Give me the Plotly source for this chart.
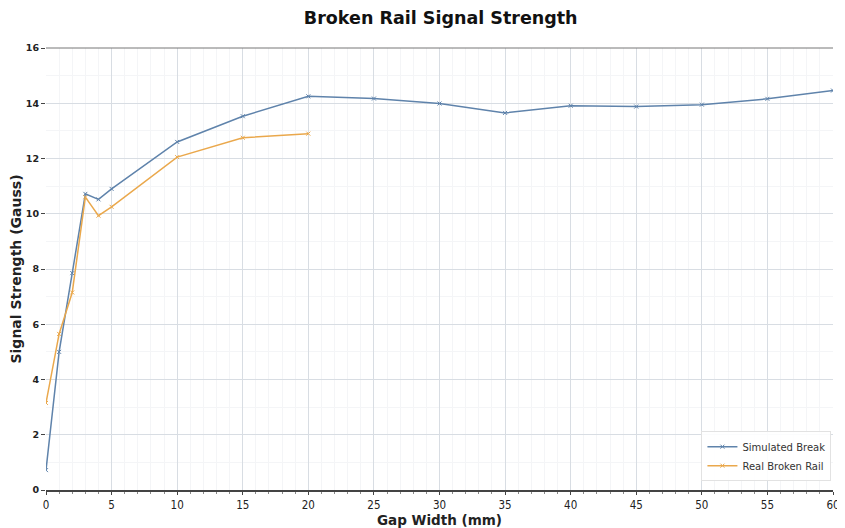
import plotly.graph_objects as go

sim_x = [0, 1, 2, 3, 4, 5, 10, 15, 20, 25, 30, 35, 40, 45, 50, 55, 60]
sim_y = [0.72, 5.0, 7.85, 10.72, 10.52, 10.9, 12.6, 13.53, 14.25, 14.17, 13.99, 13.65, 13.91, 13.88, 13.95, 14.16, 14.46]

real_x = [0, 1, 2, 3, 4, 5, 10, 15, 20]
real_y = [3.15, 5.65, 7.15, 10.6, 9.93, 10.25, 12.05, 12.75, 12.9]

x_ticks = [0, 5, 10, 15, 20, 25, 30, 35, 40, 45, 50, 55, 60]
y_ticks = [0, 2, 4, 6, 8, 10, 12, 14, 16]

BLUE = "#5f83ab"
ORANGE = "#eaa84c"

fig = go.Figure()
fig.add_trace(go.Scatter(x=sim_x, y=sim_y, mode="lines+markers", name="Simulated Break",
                         line=dict(color=BLUE, width=1.5),
                         marker=dict(symbol="x-thin", size=4, line=dict(color=BLUE, width=1))))
fig.add_trace(go.Scatter(x=real_x, y=real_y, mode="lines+markers", name="Real Broken Rail",
                         line=dict(color=ORANGE, width=1.5),
                         marker=dict(symbol="x-thin", size=4, line=dict(color=ORANGE, width=1))))

# page body has an 8px default margin; size the figure so the plot lands where the reference has it
fig.update_layout(
    width=837, height=520,
    margin=dict(l=38, r=12, t=40, b=38, autoexpand=False),
    paper_bgcolor="white", plot_bgcolor="white",
    font=dict(family="DejaVu Sans", color="#222222"),
    title=dict(text="<b>Broken Rail Signal Strength</b>", x=0.517, xanchor="center",
               y=0.981, yanchor="middle", font=dict(size=17.5, color="#111111")),
    showlegend=True,
    legend=dict(x=0.998, y=0.02, xanchor="right", yanchor="bottom",
                bgcolor="rgba(255,255,255,0.9)", bordercolor="#e2e2e2", borderwidth=1,
                font=dict(size=10, color="#333333"), tracegroupgap=0),
)
fig.update_xaxes(
    automargin=False,
    range=[0, 60], tickvals=x_ticks, ticks="outside", ticklen=3, tickcolor="#444",
    showgrid=True, gridcolor="#d8dde3", gridwidth=1,
    minor=dict(dtick=1, showgrid=True, gridcolor="#f4f5f7", ticks="outside", ticklen=2, tickcolor="#888"),
    showline=True, linecolor="#444444", linewidth=1.5, mirror=False,
    zeroline=False,
    tickfont=dict(size=11.5, family="DejaVu Sans Condensed, DejaVu Sans"),
    title=dict(text="<b>Gap Width (mm)</b>", font=dict(size=13.5), standoff=0),
)
fig.update_yaxes(
    automargin=False,
    range=[0, 16], tickvals=y_ticks, ticks="outside", ticklen=4, tickcolor="#444",
    showgrid=True, gridcolor="#d8dde3", gridwidth=1,
    minor=dict(dtick=1, showgrid=True, gridcolor="#f4f5f7"),
    showline=False, zeroline=False,
    tickfont=dict(size=9.5, family="DejaVu Sans", weight="bold"),
    title=dict(text="<b>Signal Strength (Gauss)</b>", font=dict(size=14), standoff=5),
)
fig.add_shape(type="line", xref="paper", yref="paper", x0=0, x1=1, y0=1, y1=1,
              line=dict(color="#777777", width=1))

fig.write_html("out.html")
